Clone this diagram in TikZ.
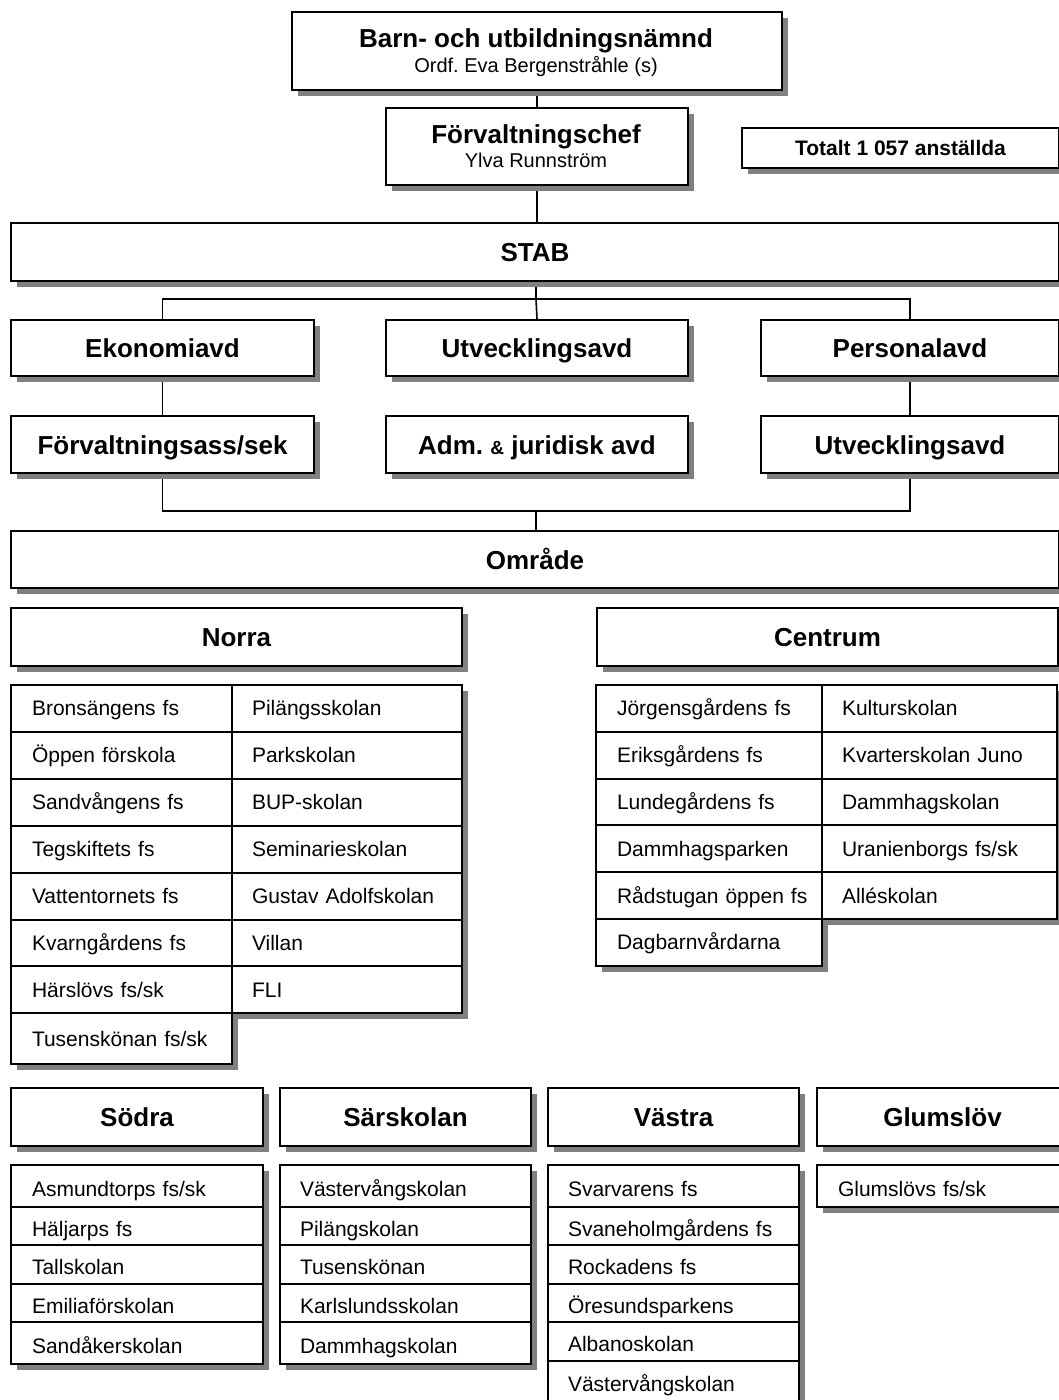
\documentclass[tikz,border=0pt]{standalone}
\usepackage{fontspec}
\setmainfont{Liberation Sans}
\usetikzlibrary{shadows}
\frenchspacing
\definecolor{shgray}{RGB}{128,128,128}
\newcommand\hfnt{\fontsize{26pt}{30pt}\selectfont\bfseries}
\newcommand\sfnt{\fontsize{20pt}{24pt}\selectfont}
\newcommand\tfnt{\fontsize{21pt}{25pt}\selectfont\bfseries}
\newcommand\cfnt{\fontsize{21pt}{25pt}\selectfont}
\pgfdeclarelayer{paper}
\pgfdeclarelayer{back}
\pgfsetlayers{paper,back,main}
\tikzset{
  shad/.style={drop shadow={shadow xshift=6pt,shadow yshift=-6pt,fill=shgray,opacity=1}},
  hbox/.style={draw, line width=2pt, fill=white, anchor=north west, inner sep=0pt,
    font=\hfnt, text height=19pt, text depth=0pt, shad},
  cellbox/.style={draw, line width=2pt, fill=white, anchor=north west, inner xsep=0pt,
    inner ysep=0pt, align=left, font=\cfnt, text height=15pt, text depth=0pt, shad},
  lcell/.style={cellbox, text height=20pt},
  conn/.style={line width=1.6pt, draw=black},
  txt/.style={anchor=base, inner sep=0pt}
}
\begin{document}
\frenchspacing
\begin{tikzpicture}[x=1pt,y=-1pt]
\useasboundingbox (0,0) rectangle (1059,1400);
\begin{pgfonlayer}{paper}
\fill[white] (0,0) rectangle (1059,1400);
\end{pgfonlayer}
\clip (0,0) rectangle (1059,1400);

% top
\node[hbox, minimum width=490pt, minimum height=78pt] (bun) at (291,11) {};
\node[txt, font=\hfnt] (bunt) at (536,47) {Barn- och utbildningsnämnd};
\node[txt, font=\sfnt] (buns) at (536,72) {Ordf. Eva Bergenstråhle (s)};
\node[hbox, minimum width=302pt, minimum height=77pt] (fc) at (385,107) {};
\node[txt, font=\hfnt] (fct) at (536,143) {Förvaltningschef};
\node[txt, font=\sfnt] (fcs) at (536,167) {Ylva Runnström};
\node[hbox, font=\tfnt, text height=15pt, minimum width=317pt, minimum height=40pt] (tot) at (741,127) {Totalt 1 057 anställda};

\node[hbox, minimum width=1048pt, minimum height=58pt] (stab) at (10,222) {STAB};
\node[hbox, minimum width=303pt, minimum height=56pt] (eko) at (10,319) {Ekonomiavd};
\node[hbox, minimum width=302pt, minimum height=56pt] (utv1) at (385,319) {Utvecklingsavd};
\node[hbox, minimum width=298pt, minimum height=56pt] (pers) at (760,319) {Personalavd};
\node[hbox, minimum width=303pt, minimum height=57pt] (fas) at (10,415) {Förvaltningsass/sek};
\node[hbox, minimum width=302pt, minimum height=57pt] (adm) at (385,415) {Adm. {\fontsize{19pt}{22pt}\selectfont\&} juridisk avd};
\node[hbox, minimum width=298pt, minimum height=57pt] (utv2) at (760,415) {Utvecklingsavd};
\node[hbox, minimum width=1048pt, minimum height=57pt] (omr) at (10,530) {Område};

\node[hbox, minimum width=451pt, minimum height=58pt] (norra) at (10,607) {Norra};
\node[hbox, minimum width=461pt, minimum height=58pt] (centrum) at (596,607) {Centrum};

% Norra list
\foreach \t [count=\i from 0] in {Bronsängens fs,Öppen förskola,Sandvångens fs,Tegskiftets fs,Vattentornets fs,Kvarngårdens fs,Härslövs fs/sk}
  \node[cellbox, text width=221pt, minimum height=46.9pt] (nl\i) at (10,684+46.9*\i) {\hspace*{21pt}\t};
\node[cellbox, text width=221pt, minimum height=51pt] (nl7) at (10,1012.3) {\hspace*{21pt}Tusenskönan fs/sk};
\foreach \t [count=\i from 0] in {Pilängsskolan,Parkskolan,BUP-skolan,Seminarieskolan,Gustav Adolfskolan,Villan,FLI}
  \node[cellbox, text width=230pt, minimum height=46.9pt] (nr\i) at (231,684+46.9*\i) {\hspace*{20pt}\t};

% Centrum list
\foreach \t [count=\i from 0] in {Jörgensgårdens fs,Eriksgårdens fs,Lundegårdens fs,Dammhagsparken,Rådstugan öppen fs,Dagbarnvårdarna}
  \node[cellbox, text width=226pt, minimum height=46.8pt] (cl\i) at (595,684+46.8*\i) {\hspace*{21pt}\t};
\foreach \t [count=\i from 0] in {Kulturskolan,Kvarterskolan Juno,Dammhagskolan,Uranienborgs fs/sk,Alléskolan}
  \node[cellbox, text width=235pt, minimum height=46.8pt] (cr\i) at (821,684+46.8*\i) {\hspace*{20pt}\t};

% lower headers
\node[hbox, minimum width=252pt, minimum height=58pt] (sodra) at (10,1087) {Södra};
\node[hbox, minimum width=251pt, minimum height=58pt] (sar) at (279,1087) {Särskolan};
\node[hbox, minimum width=251pt, minimum height=58pt] (vastra) at (547,1087) {Västra};
\node[hbox, minimum width=251pt, minimum height=58pt] (glum) at (816,1087) {Glumslöv};

% Södra list
\node[lcell, text width=252pt, minimum height=42pt] (so0) at (10,1164) {\hspace*{21pt}Asmundtorps fs/sk};
\node[lcell, text width=252pt, minimum height=38.3pt] (so1) at (10,1206) {\hspace*{21pt}Häljarps fs};
\node[lcell, text width=252pt, minimum height=38.4pt] (so2) at (10,1244.3) {\hspace*{21pt}Tallskolan};
\node[lcell, text width=252pt, minimum height=38.6pt] (so3) at (10,1282.7) {\hspace*{21pt}Emiliaförskolan};
\node[lcell, text width=252pt, minimum height=42pt] (so4) at (10,1321.3) {\hspace*{21pt}Sandåkerskolan};

% Särskolan list
\node[lcell, text width=251pt, minimum height=42pt] (sa0) at (279,1164) {\hspace*{20pt}Västervångskolan};
\node[lcell, text width=251pt, minimum height=38.3pt] (sa1) at (279,1206) {\hspace*{20pt}Pilängskolan};
\node[lcell, text width=251pt, minimum height=38.4pt] (sa2) at (279,1244.3) {\hspace*{20pt}Tusenskönan};
\node[lcell, text width=251pt, minimum height=38.6pt] (sa3) at (279,1282.7) {\hspace*{20pt}Karlslundsskolan};
\node[lcell, text width=251pt, minimum height=42pt] (sa4) at (279,1321.3) {\hspace*{20pt}Dammhagskolan};

% Västra list
\node[lcell, text width=251pt, minimum height=42pt] (va0) at (547,1164) {\hspace*{20pt}Svarvarens fs};
\node[lcell, text width=251pt, minimum height=38.3pt] (va1) at (547,1206) {\hspace*{20pt}Svaneholmgårdens fs};
\node[lcell, text width=251pt, minimum height=38.4pt] (va2) at (547,1244.3) {\hspace*{20pt}Rockadens fs};
\node[lcell, text width=251pt, minimum height=38.6pt] (va3) at (547,1282.7) {\hspace*{20pt}Öresundsparkens};
\node[lcell, text width=251pt, minimum height=38.7pt] (va4) at (547,1321.3) {\hspace*{20pt}Albanoskolan};
\node[cellbox, text width=251pt, minimum height=46pt] (va5) at (547,1360) {\hspace*{20pt}Västervångskolan};

% Glumslöv list
\node[lcell, text width=251pt, minimum height=42pt] (gl0) at (816,1164) {\hspace*{21pt}Glumslövs fs/sk};

% connectors
\begin{pgfonlayer}{back}
\draw[conn] (bun.south) -- (fc.north);
\draw[conn] (fc.south) -- (fc.south |- stab.north);
\coordinate (bar1) at (536,299);
\draw[conn] (bar1 |- stab.south) -- (bar1) -- (utv1.north);
\draw[conn] (eko.north) |- (bar1) -| (pers.north);
\draw[conn] (eko.south) -- (fas.north);
\draw[conn] (pers.south) -- (utv2.north);
\coordinate (bar2) at (536,511);
\draw[conn] (fas.south) |- (bar2) -| (utv2.south);
\draw[conn] (bar2) -- (bar2 |- omr.north);
\end{pgfonlayer}
\end{tikzpicture}
\end{document}
